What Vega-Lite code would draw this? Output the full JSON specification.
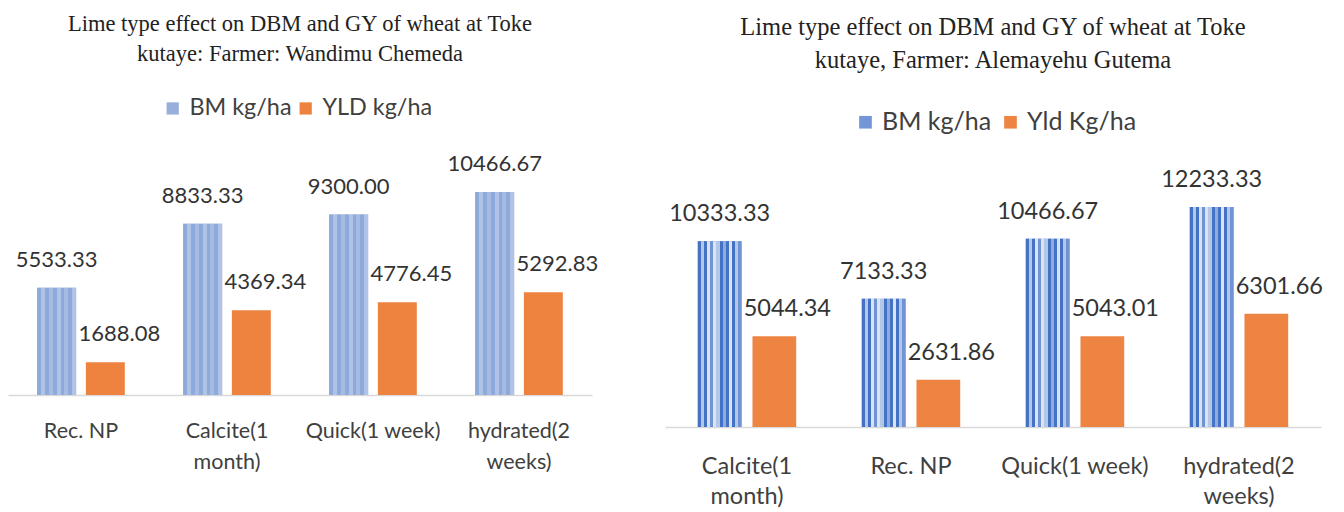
{
  "$schema": "https://vega.github.io/schema/vega-lite/v6.json",
  "background": "white",
  "padding": {"left": 8, "top": 12, "right": 0, "bottom": 0},
  "spacing": 66,
  "resolve": {"scale": {"color": "independent", "x": "independent", "xOffset": "independent", "y": "independent"}, "legend": {"color": "independent"}},
  "config": {
    "view": {"stroke": null},
    "font": "Lato"
  },
  "hconcat": [
    {
      "width": 584,
      "height": 265,
      "title": {
        "text": ["Lime type effect on DBM  and GY of wheat at Toke", "kutaye: Farmer: Wandimu Chemeda"],
        "font": "Liberation Serif",
        "fontSize": 22.5,
        "fontWeight": "normal",
        "lineHeight": 30,
        "color": "#222222",
        "anchor": "middle",
        "frame": "group",
        "offset": 31
      },
      "data": {
        "values": [
          {"treatment": "Rec. NP", "series": "BM kg/ha", "value": 5533.33},
          {"treatment": "Rec. NP", "series": "YLD kg/ha", "value": 1688.08},
          {"treatment": "Calcite(1 month)", "series": "BM kg/ha", "value": 8833.33},
          {"treatment": "Calcite(1 month)", "series": "YLD kg/ha", "value": 4369.34},
          {"treatment": "Quick(1 week)", "series": "BM kg/ha", "value": 9300.00},
          {"treatment": "Quick(1 week)", "series": "YLD kg/ha", "value": 4776.45},
          {"treatment": "hydrated(2 weeks)", "series": "BM kg/ha", "value": 10466.67},
          {"treatment": "hydrated(2 weeks)", "series": "YLD kg/ha", "value": 5292.83}
        ]
      },
      "encoding": {
        "x": {
          "field": "treatment", "type": "nominal", "sort": null,
          "scale": {"paddingInner": 0.4, "paddingOuter": 0.2},
          "axis": {
            "title": null, "labelAngle": 0, "ticks": false,
            "domainColor": "#d9d9d9", "domainWidth": 1.5,
            "labelFontSize": 21.5, "labelColor": "#404040", "labelPadding": 25,
            "labelLineHeight": 31,
            "labelExpr": "datum.value == 'Calcite(1 month)' ? ['Calcite(1', 'month)'] : datum.value == 'hydrated(2 weeks)' ? ['hydrated(2', 'weeks)'] : datum.value"
          }
        },
        "xOffset": {"field": "series", "type": "nominal", "sort": null, "scale": {"paddingInner": 0.2}},
        "y": {"field": "value", "type": "quantitative", "scale": {"domain": [0, 13663], "nice": false}, "axis": null}
      },
      "layer": [
        {
          "mark": {"type": "bar"},
          "encoding": {
            "color": {
              "field": "series", "type": "nominal", "sort": null,
              "scale": {"range": ["#98afdc", "#ee8340"]},
              "legend": {
                "orient": "none", "legendX": 153, "legendY": -33.7,
                "direction": "horizontal", "title": null, "padding": 0,
                "symbolType": "square", "symbolSize": 150, "symbolStrokeWidth": 0,
                "labelFontSize": 23.4, "labelColor": "#404040", "labelOffset": 5,
                "columnPadding": 2
              }
            }
          }
        },
        {
          "transform": [{"filter": "datum.series == 'BM kg/ha'"}],
          "mark": {
            "type": "bar",
            "fill": {
              "gradient": "linear", "x1": 0, "y1": 0, "x2": 1, "y2": 0,
              "stops": [
                {"offset": 0, "color": "#8eaadb"}, {"offset": 0.1, "color": "#8eaadb"},
                {"offset": 0.1, "color": "#b0c3e6"}, {"offset": 0.2, "color": "#b0c3e6"},
                {"offset": 0.2, "color": "#8eaadb"}, {"offset": 0.3, "color": "#8eaadb"},
                {"offset": 0.3, "color": "#a6bbe2"}, {"offset": 0.4, "color": "#a6bbe2"},
                {"offset": 0.4, "color": "#8eaadb"}, {"offset": 0.5, "color": "#8eaadb"},
                {"offset": 0.5, "color": "#b0c3e6"}, {"offset": 0.6, "color": "#b0c3e6"},
                {"offset": 0.6, "color": "#8eaadb"}, {"offset": 0.7, "color": "#8eaadb"},
                {"offset": 0.7, "color": "#a6bbe2"}, {"offset": 0.8, "color": "#a6bbe2"},
                {"offset": 0.8, "color": "#8eaadb"}, {"offset": 0.9, "color": "#8eaadb"},
                {"offset": 0.9, "color": "#b0c3e6"}, {"offset": 1, "color": "#b0c3e6"}
              ]
            }
          },
          "encoding": {}
        },
        {
          "transform": [{"filter": "datum.series == 'BM kg/ha'"}],
          "mark": {"type": "text", "fontSize": 22, "color": "#333333", "baseline": "alphabetic", "dy": -21},
          "encoding": {"text": {"field": "value", "type": "quantitative", "format": ".2f"}}
        },
        {
          "transform": [{"filter": "datum.series == 'YLD kg/ha'"}],
          "mark": {"type": "text", "fontSize": 22, "color": "#333333", "baseline": "alphabetic", "dy": -21, "dx": 14},
          "encoding": {"text": {"field": "value", "type": "quantitative", "format": ".2f"}}
        }
      ]
    },
    {
      "width": 656,
      "height": 297,
      "title": {
        "text": ["Lime type effect on DBM  and GY of wheat at Toke", "kutaye, Farmer: Alemayehu Gutema"],
        "font": "Liberation Serif",
        "fontSize": 24.5,
        "fontWeight": "normal",
        "lineHeight": 33,
        "color": "#222222",
        "anchor": "middle",
        "frame": "group",
        "offset": 36
      },
      "data": {
        "values": [
          {"treatment": "Calcite(1 month)", "series": "BM kg/ha", "value": 10333.33},
          {"treatment": "Calcite(1 month)", "series": "Yld Kg/ha", "value": 5044.34},
          {"treatment": "Rec. NP", "series": "BM kg/ha", "value": 7133.33},
          {"treatment": "Rec. NP", "series": "Yld Kg/ha", "value": 2631.86},
          {"treatment": "Quick(1 week)", "series": "BM kg/ha", "value": 10466.67},
          {"treatment": "Quick(1 week)", "series": "Yld Kg/ha", "value": 5043.01},
          {"treatment": "hydrated(2 weeks)", "series": "BM kg/ha", "value": 12233.33},
          {"treatment": "hydrated(2 weeks)", "series": "Yld Kg/ha", "value": 6301.66}
        ]
      },
      "encoding": {
        "x": {
          "field": "treatment", "type": "nominal", "sort": null,
          "scale": {"paddingInner": 0.4, "paddingOuter": 0.2},
          "axis": {
            "title": null, "labelAngle": 0, "ticks": false,
            "domainColor": "#d9d9d9", "domainWidth": 1.5,
            "labelFontSize": 23.5, "labelColor": "#404040", "labelPadding": 27,
            "labelLineHeight": 30,
            "labelExpr": "datum.value == 'Calcite(1 month)' ? ['Calcite(1', 'month)'] : datum.value == 'hydrated(2 weeks)' ? ['hydrated(2', 'weeks)'] : datum.value"
          }
        },
        "xOffset": {"field": "series", "type": "nominal", "sort": null, "scale": {"paddingInner": 0.2}},
        "y": {"field": "value", "type": "quantitative", "scale": {"domain": [0, 16515], "nice": false}, "axis": null}
      },
      "layer": [
        {
          "mark": {"type": "bar"},
          "encoding": {
            "color": {
              "field": "series", "type": "nominal", "sort": null,
              "scale": {"range": ["#7396d6", "#ee8442"]},
              "legend": {
                "orient": "none", "legendX": 188, "legendY": -20.5,
                "direction": "horizontal", "title": null, "padding": 0,
                "symbolType": "square", "symbolSize": 160, "symbolStrokeWidth": 0,
                "labelFontSize": 25, "labelColor": "#404040", "labelOffset": 4,
                "columnPadding": 6
              }
            }
          }
        },
        {
          "transform": [{"filter": "datum.series == 'BM kg/ha'"}],
          "mark": {
            "type": "bar",
            "fill": {
              "gradient": "linear", "x1": 0, "y1": 0, "x2": 1, "y2": 0,
              "stops": [
                {"offset": 0, "color": "#4472c4"}, {"offset": 0.07, "color": "#4472c4"},
                {"offset": 0.07, "color": "#b4c7e7"}, {"offset": 0.14, "color": "#b4c7e7"},
                {"offset": 0.14, "color": "#4472c4"}, {"offset": 0.21, "color": "#4472c4"},
                {"offset": 0.21, "color": "#dae3f3"}, {"offset": 0.28, "color": "#dae3f3"},
                {"offset": 0.28, "color": "#6f93d4"}, {"offset": 0.35, "color": "#6f93d4"},
                {"offset": 0.35, "color": "#dae3f3"}, {"offset": 0.42, "color": "#dae3f3"},
                {"offset": 0.42, "color": "#b4c7e7"}, {"offset": 0.5, "color": "#b4c7e7"},
                {"offset": 0.5, "color": "#4472c4"}, {"offset": 0.57, "color": "#4472c4"},
                {"offset": 0.57, "color": "#8faadc"}, {"offset": 0.64, "color": "#8faadc"},
                {"offset": 0.64, "color": "#4472c4"}, {"offset": 0.71, "color": "#4472c4"},
                {"offset": 0.71, "color": "#dae3f3"}, {"offset": 0.78, "color": "#dae3f3"},
                {"offset": 0.78, "color": "#4472c4"}, {"offset": 0.86, "color": "#4472c4"},
                {"offset": 0.86, "color": "#b4c7e7"}, {"offset": 0.93, "color": "#b4c7e7"},
                {"offset": 0.93, "color": "#6f93d4"}, {"offset": 1, "color": "#6f93d4"}
              ]
            }
          },
          "encoding": {}
        },
        {
          "transform": [{"filter": "datum.series == 'BM kg/ha'"}],
          "mark": {"type": "text", "fontSize": 23.5, "color": "#333333", "baseline": "alphabetic", "dy": -20},
          "encoding": {"text": {"field": "value", "type": "quantitative", "format": ".2f"}}
        },
        {
          "transform": [{"filter": "datum.series == 'Yld Kg/ha'"}],
          "mark": {"type": "text", "fontSize": 23.5, "color": "#333333", "baseline": "alphabetic", "dy": -20, "dx": 13},
          "encoding": {"text": {"field": "value", "type": "quantitative", "format": ".2f"}}
        }
      ]
    }
  ]
}
